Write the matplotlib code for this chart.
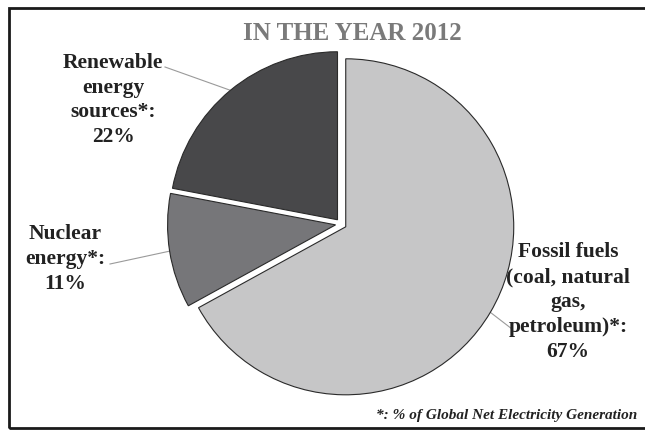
import matplotlib
import matplotlib.pyplot as plt
import numpy as np
from matplotlib.patches import Rectangle

matplotlib.use("Agg")

# data
labels = ["Fossil fuels\n(coal, natural\ngas,\npetroleum)*:\n67%",
          "Nuclear\nenergy*:\n11%",
          "Renewable\nenergy\nsources*:\n22%"]
shares = [67, 11, 22]
colors = ["#c6c6c7", "#767679", "#48484a"]

# where each label block sits (pixels, origin bottom-left)
label_pos = [(568, 129), (65, 172), (113, 331)]
line_start = [(512, 101), (110, 166), (165, 363)]

W, H = 645, 431
fig = plt.figure(figsize=(W / 100, H / 100), dpi=100)
ax = fig.add_axes([0, 0, 1, 1])

R = 168
# explode is in data units here (pixels)
wedges, _ = ax.pie(shares, colors=colors, startangle=90, counterclock=False,
                   explode=[5.5] * 3, radius=R, center=(341, 206), frame=True,
                   wedgeprops=dict(edgecolor="#2a2a2a", linewidth=0.8))

ax.set_xlim(0, W)
ax.set_ylim(0, H)
ax.set_aspect("equal")
ax.axis("off")

# labels with connector lines to the wedge edge
for w, lab, (tx, ty), (sx, sy) in zip(wedges, labels, label_pos, line_start):
    mid = np.deg2rad((w.theta1 + w.theta2) / 2)
    cx, cy = w.center
    ex = cx + R * 1.0 * np.cos(mid)
    ey = cy + R * 1.0 * np.sin(mid)
    ax.plot([sx, ex], [sy, ey], color="#9a9a9a", lw=0.8, zorder=0)
    ax.text(tx, ty, lab, ha="center", va="center", fontsize=15.5,
            family="Liberation Serif", fontweight="bold", color="#222222",
            linespacing=1.32)

ax.text(352, 398, "IN THE YEAR 2012", ha="center", va="center", fontsize=18,
        family="Liberation Serif", fontweight="bold", color="#7a7a7a")

ax.text(637, 12, "*: % of Global Net Electricity Generation", ha="right", va="baseline",
        fontsize=11, family="Liberation Serif", fontweight="bold", style="italic",
        color="#222222")

# frame around the chart (right side runs off the image)
ax.add_patch(Rectangle((9, 2), 660, 420, fill=False, edgecolor="#1a1a1a", lw=2,
                       clip_on=False))

fig.savefig("out.png", dpi=100)
